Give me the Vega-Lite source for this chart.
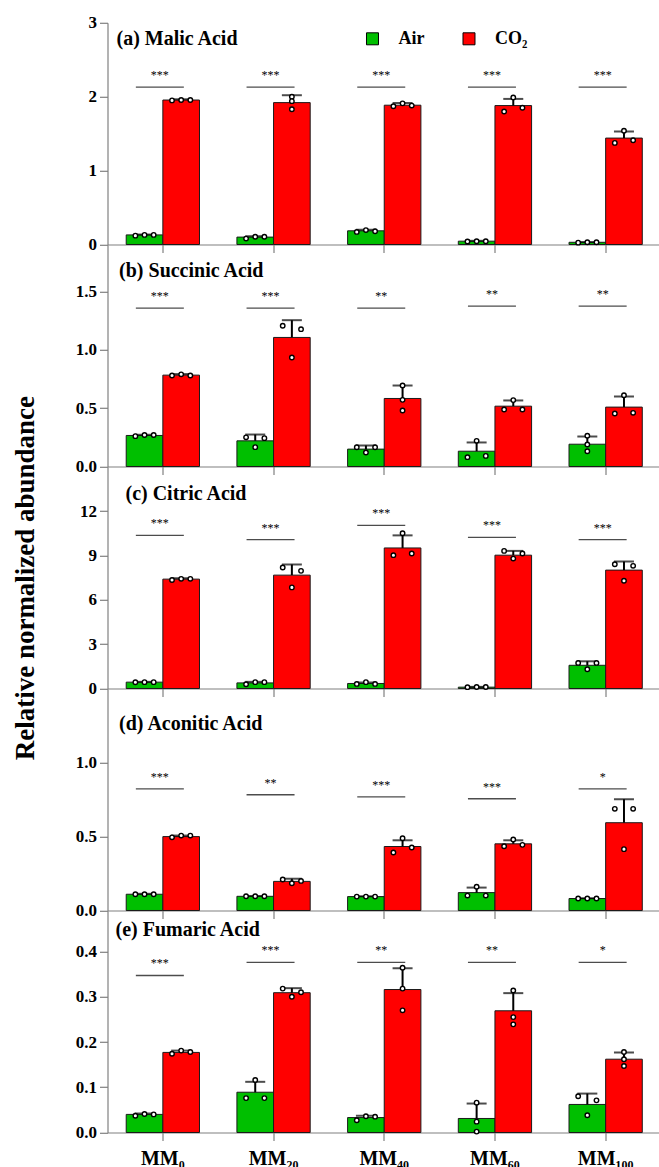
{
  "$schema": "https://vega.github.io/schema/vega-lite/v6.json",
  "padding": {"left": 10.5, "top": 13.8, "right": 0, "bottom": 5},
  "bounds": "flush",
  "spacing": 0,
  "config": {
    "view": {"stroke": null},
    "font": "Liberation Serif",
    "axis": {"domainColor": "#808080", "tickColor": "#808080", "domainWidth": 1.2, "tickWidth": 1.2, "tickSize": 8, "labelFont": "Liberation Serif", "labelFontWeight": "bold", "labelColor": "black", "grid": false, "title": null},
    "axisY": {"labelFontSize": 17, "labelPadding": 3},
    "axisX": {"labelFontSize": 20, "labelPadding": 8},
    "title": {"font": "Liberation Serif", "fontSize": 20, "fontWeight": "bold", "color": "black", "anchor": "start", "frame": "group", "baseline": "middle"}
  },
  "resolve": {"scale": {"y": "independent", "color": "independent", "x": "independent", "xOffset": "independent"}, "legend": {"color": "independent"}},
  "datasets": {
    "bars": [
      {"panel": "a", "cat": "MM₀", "group": "Air", "mean": 0.13, "err": 0.135},
      {"panel": "a", "cat": "MM₀", "group": "CO₂", "mean": 1.955, "err": 1.965},
      {"panel": "a", "cat": "MM₂₀", "group": "Air", "mean": 0.10, "err": 0.112},
      {"panel": "a", "cat": "MM₂₀", "group": "CO₂", "mean": 1.92, "err": 2.02},
      {"panel": "a", "cat": "MM₄₀", "group": "Air", "mean": 0.185, "err": 0.198},
      {"panel": "a", "cat": "MM₄₀", "group": "CO₂", "mean": 1.885, "err": 1.915},
      {"panel": "a", "cat": "MM₆₀", "group": "Air", "mean": 0.045, "err": 0.05},
      {"panel": "a", "cat": "MM₆₀", "group": "CO₂", "mean": 1.88, "err": 1.97},
      {"panel": "a", "cat": "MM₁₀₀", "group": "Air", "mean": 0.03, "err": 0.033},
      {"panel": "a", "cat": "MM₁₀₀", "group": "CO₂", "mean": 1.44, "err": 1.53},
      {"panel": "b", "cat": "MM₀", "group": "Air", "mean": 0.266, "err": 0.272},
      {"panel": "b", "cat": "MM₀", "group": "CO₂", "mean": 0.783, "err": 0.792},
      {"panel": "b", "cat": "MM₂₀", "group": "Air", "mean": 0.22, "err": 0.274},
      {"panel": "b", "cat": "MM₂₀", "group": "CO₂", "mean": 1.106, "err": 1.254},
      {"panel": "b", "cat": "MM₄₀", "group": "Air", "mean": 0.149, "err": 0.18},
      {"panel": "b", "cat": "MM₄₀", "group": "CO₂", "mean": 0.583, "err": 0.694},
      {"panel": "b", "cat": "MM₆₀", "group": "Air", "mean": 0.131, "err": 0.206},
      {"panel": "b", "cat": "MM₆₀", "group": "CO₂", "mean": 0.517, "err": 0.566},
      {"panel": "b", "cat": "MM₁₀₀", "group": "Air", "mean": 0.191, "err": 0.257},
      {"panel": "b", "cat": "MM₁₀₀", "group": "CO₂", "mean": 0.509, "err": 0.60},
      {"panel": "c", "cat": "MM₀", "group": "Air", "mean": 0.43, "err": 0.45},
      {"panel": "c", "cat": "MM₀", "group": "CO₂", "mean": 7.40, "err": 7.46},
      {"panel": "c", "cat": "MM₂₀", "group": "Air", "mean": 0.38, "err": 0.45},
      {"panel": "c", "cat": "MM₂₀", "group": "CO₂", "mean": 7.67, "err": 8.39},
      {"panel": "c", "cat": "MM₄₀", "group": "Air", "mean": 0.34, "err": 0.40},
      {"panel": "c", "cat": "MM₄₀", "group": "CO₂", "mean": 9.51, "err": 10.36},
      {"panel": "c", "cat": "MM₆₀", "group": "Air", "mean": 0.09, "err": 0.11},
      {"panel": "c", "cat": "MM₆₀", "group": "CO₂", "mean": 9.02, "err": 9.31},
      {"panel": "c", "cat": "MM₁₀₀", "group": "Air", "mean": 1.57, "err": 1.84},
      {"panel": "c", "cat": "MM₁₀₀", "group": "CO₂", "mean": 8.01, "err": 8.59},
      {"panel": "d", "cat": "MM₀", "group": "Air", "mean": 0.11, "err": 0.113},
      {"panel": "d", "cat": "MM₀", "group": "CO₂", "mean": 0.50, "err": 0.507},
      {"panel": "d", "cat": "MM₂₀", "group": "Air", "mean": 0.096, "err": 0.098},
      {"panel": "d", "cat": "MM₂₀", "group": "CO₂", "mean": 0.197, "err": 0.215},
      {"panel": "d", "cat": "MM₄₀", "group": "Air", "mean": 0.094, "err": 0.096},
      {"panel": "d", "cat": "MM₄₀", "group": "CO₂", "mean": 0.433, "err": 0.475},
      {"panel": "d", "cat": "MM₆₀", "group": "Air", "mean": 0.121, "err": 0.155},
      {"panel": "d", "cat": "MM₆₀", "group": "CO₂", "mean": 0.451, "err": 0.475},
      {"panel": "d", "cat": "MM₁₀₀", "group": "Air", "mean": 0.081, "err": 0.083},
      {"panel": "d", "cat": "MM₁₀₀", "group": "CO₂", "mean": 0.594, "err": 0.753},
      {"panel": "e", "cat": "MM₀", "group": "Air", "mean": 0.04, "err": 0.042},
      {"panel": "e", "cat": "MM₀", "group": "CO₂", "mean": 0.177, "err": 0.181},
      {"panel": "e", "cat": "MM₂₀", "group": "Air", "mean": 0.089, "err": 0.112},
      {"panel": "e", "cat": "MM₂₀", "group": "CO₂", "mean": 0.309, "err": 0.319},
      {"panel": "e", "cat": "MM₄₀", "group": "Air", "mean": 0.033, "err": 0.037},
      {"panel": "e", "cat": "MM₄₀", "group": "CO₂", "mean": 0.316, "err": 0.363},
      {"panel": "e", "cat": "MM₆₀", "group": "Air", "mean": 0.031, "err": 0.064},
      {"panel": "e", "cat": "MM₆₀", "group": "CO₂", "mean": 0.269, "err": 0.308},
      {"panel": "e", "cat": "MM₁₀₀", "group": "Air", "mean": 0.062, "err": 0.086},
      {"panel": "e", "cat": "MM₁₀₀", "group": "CO₂", "mean": 0.162, "err": 0.177}
    ],
    "pts": [
      {"panel": "a", "cat": "MM₀", "slot": "Air-L", "value": 0.12},
      {"panel": "a", "cat": "MM₀", "slot": "Air-C", "value": 0.13},
      {"panel": "a", "cat": "MM₀", "slot": "Air-R", "value": 0.13},
      {"panel": "a", "cat": "MM₀", "slot": "CO₂-L", "value": 1.95},
      {"panel": "a", "cat": "MM₀", "slot": "CO₂-C", "value": 1.955},
      {"panel": "a", "cat": "MM₀", "slot": "CO₂-R", "value": 1.955},
      {"panel": "a", "cat": "MM₂₀", "slot": "Air-L", "value": 0.08},
      {"panel": "a", "cat": "MM₂₀", "slot": "Air-C", "value": 0.105},
      {"panel": "a", "cat": "MM₂₀", "slot": "Air-R", "value": 0.105},
      {"panel": "a", "cat": "MM₂₀", "slot": "CO₂-C", "value": 2.0},
      {"panel": "a", "cat": "MM₂₀", "slot": "CO₂-C", "value": 1.94},
      {"panel": "a", "cat": "MM₂₀", "slot": "CO₂-C", "value": 1.83},
      {"panel": "a", "cat": "MM₄₀", "slot": "Air-L", "value": 0.17},
      {"panel": "a", "cat": "MM₄₀", "slot": "Air-C", "value": 0.195},
      {"panel": "a", "cat": "MM₄₀", "slot": "Air-R", "value": 0.18},
      {"panel": "a", "cat": "MM₄₀", "slot": "CO₂-L", "value": 1.87},
      {"panel": "a", "cat": "MM₄₀", "slot": "CO₂-C", "value": 1.91},
      {"panel": "a", "cat": "MM₄₀", "slot": "CO₂-R", "value": 1.88},
      {"panel": "a", "cat": "MM₆₀", "slot": "Air-L", "value": 0.04},
      {"panel": "a", "cat": "MM₆₀", "slot": "Air-C", "value": 0.045},
      {"panel": "a", "cat": "MM₆₀", "slot": "Air-R", "value": 0.045},
      {"panel": "a", "cat": "MM₆₀", "slot": "CO₂-L", "value": 1.80},
      {"panel": "a", "cat": "MM₆₀", "slot": "CO₂-C", "value": 1.99},
      {"panel": "a", "cat": "MM₆₀", "slot": "CO₂-R", "value": 1.85},
      {"panel": "a", "cat": "MM₁₀₀", "slot": "Air-L", "value": 0.025},
      {"panel": "a", "cat": "MM₁₀₀", "slot": "Air-C", "value": 0.03},
      {"panel": "a", "cat": "MM₁₀₀", "slot": "Air-R", "value": 0.03},
      {"panel": "a", "cat": "MM₁₀₀", "slot": "CO₂-L", "value": 1.375},
      {"panel": "a", "cat": "MM₁₀₀", "slot": "CO₂-C", "value": 1.54},
      {"panel": "a", "cat": "MM₁₀₀", "slot": "CO₂-R", "value": 1.41},
      {"panel": "b", "cat": "MM₀", "slot": "Air-L", "value": 0.26},
      {"panel": "b", "cat": "MM₀", "slot": "Air-C", "value": 0.27},
      {"panel": "b", "cat": "MM₀", "slot": "Air-R", "value": 0.27},
      {"panel": "b", "cat": "MM₀", "slot": "CO₂-L", "value": 0.78},
      {"panel": "b", "cat": "MM₀", "slot": "CO₂-C", "value": 0.79},
      {"panel": "b", "cat": "MM₀", "slot": "CO₂-R", "value": 0.78},
      {"panel": "b", "cat": "MM₂₀", "slot": "Air-L", "value": 0.25},
      {"panel": "b", "cat": "MM₂₀", "slot": "Air-C", "value": 0.166},
      {"panel": "b", "cat": "MM₂₀", "slot": "Air-R", "value": 0.243},
      {"panel": "b", "cat": "MM₂₀", "slot": "CO₂-L", "value": 1.206},
      {"panel": "b", "cat": "MM₂₀", "slot": "CO₂-C", "value": 0.934},
      {"panel": "b", "cat": "MM₂₀", "slot": "CO₂-R", "value": 1.177},
      {"panel": "b", "cat": "MM₄₀", "slot": "Air-L", "value": 0.165},
      {"panel": "b", "cat": "MM₄₀", "slot": "Air-C", "value": 0.12},
      {"panel": "b", "cat": "MM₄₀", "slot": "Air-R", "value": 0.165},
      {"panel": "b", "cat": "MM₄₀", "slot": "CO₂-C", "value": 0.694},
      {"panel": "b", "cat": "MM₄₀", "slot": "CO₂-C", "value": 0.571},
      {"panel": "b", "cat": "MM₄₀", "slot": "CO₂-C", "value": 0.48},
      {"panel": "b", "cat": "MM₆₀", "slot": "Air-L", "value": 0.08},
      {"panel": "b", "cat": "MM₆₀", "slot": "Air-C", "value": 0.22},
      {"panel": "b", "cat": "MM₆₀", "slot": "Air-R", "value": 0.091},
      {"panel": "b", "cat": "MM₆₀", "slot": "CO₂-L", "value": 0.489},
      {"panel": "b", "cat": "MM₆₀", "slot": "CO₂-C", "value": 0.569},
      {"panel": "b", "cat": "MM₆₀", "slot": "CO₂-R", "value": 0.489},
      {"panel": "b", "cat": "MM₁₀₀", "slot": "Air-C", "value": 0.263},
      {"panel": "b", "cat": "MM₁₀₀", "slot": "Air-C", "value": 0.189},
      {"panel": "b", "cat": "MM₁₀₀", "slot": "Air-C", "value": 0.131},
      {"panel": "b", "cat": "MM₁₀₀", "slot": "CO₂-L", "value": 0.454},
      {"panel": "b", "cat": "MM₁₀₀", "slot": "CO₂-C", "value": 0.611},
      {"panel": "b", "cat": "MM₁₀₀", "slot": "CO₂-R", "value": 0.46},
      {"panel": "c", "cat": "MM₀", "slot": "Air-L", "value": 0.42},
      {"panel": "c", "cat": "MM₀", "slot": "Air-C", "value": 0.43},
      {"panel": "c", "cat": "MM₀", "slot": "Air-R", "value": 0.43},
      {"panel": "c", "cat": "MM₀", "slot": "CO₂-L", "value": 7.34},
      {"panel": "c", "cat": "MM₀", "slot": "CO₂-C", "value": 7.42},
      {"panel": "c", "cat": "MM₀", "slot": "CO₂-R", "value": 7.42},
      {"panel": "c", "cat": "MM₂₀", "slot": "Air-L", "value": 0.29},
      {"panel": "c", "cat": "MM₂₀", "slot": "Air-C", "value": 0.43},
      {"panel": "c", "cat": "MM₂₀", "slot": "Air-R", "value": 0.43},
      {"panel": "c", "cat": "MM₂₀", "slot": "CO₂-L", "value": 8.19},
      {"panel": "c", "cat": "MM₂₀", "slot": "CO₂-C", "value": 6.84},
      {"panel": "c", "cat": "MM₂₀", "slot": "CO₂-R", "value": 7.96},
      {"panel": "c", "cat": "MM₄₀", "slot": "Air-L", "value": 0.31},
      {"panel": "c", "cat": "MM₄₀", "slot": "Air-C", "value": 0.43},
      {"panel": "c", "cat": "MM₄₀", "slot": "Air-R", "value": 0.31},
      {"panel": "c", "cat": "MM₄₀", "slot": "CO₂-L", "value": 9.02},
      {"panel": "c", "cat": "MM₄₀", "slot": "CO₂-C", "value": 10.5},
      {"panel": "c", "cat": "MM₄₀", "slot": "CO₂-R", "value": 9.13},
      {"panel": "c", "cat": "MM₆₀", "slot": "Air-L", "value": 0.09},
      {"panel": "c", "cat": "MM₆₀", "slot": "Air-C", "value": 0.1},
      {"panel": "c", "cat": "MM₆₀", "slot": "Air-R", "value": 0.1},
      {"panel": "c", "cat": "MM₆₀", "slot": "CO₂-L", "value": 9.31},
      {"panel": "c", "cat": "MM₆₀", "slot": "CO₂-C", "value": 8.79},
      {"panel": "c", "cat": "MM₆₀", "slot": "CO₂-R", "value": 9.13},
      {"panel": "c", "cat": "MM₁₀₀", "slot": "Air-L", "value": 1.73},
      {"panel": "c", "cat": "MM₁₀₀", "slot": "Air-C", "value": 1.30},
      {"panel": "c", "cat": "MM₁₀₀", "slot": "Air-R", "value": 1.73},
      {"panel": "c", "cat": "MM₁₀₀", "slot": "CO₂-L", "value": 8.41},
      {"panel": "c", "cat": "MM₁₀₀", "slot": "CO₂-C", "value": 7.29},
      {"panel": "c", "cat": "MM₁₀₀", "slot": "CO₂-R", "value": 8.30},
      {"panel": "d", "cat": "MM₀", "slot": "Air-L", "value": 0.11},
      {"panel": "d", "cat": "MM₀", "slot": "Air-C", "value": 0.11},
      {"panel": "d", "cat": "MM₀", "slot": "Air-R", "value": 0.11},
      {"panel": "d", "cat": "MM₀", "slot": "CO₂-L", "value": 0.495},
      {"panel": "d", "cat": "MM₀", "slot": "CO₂-C", "value": 0.507},
      {"panel": "d", "cat": "MM₀", "slot": "CO₂-R", "value": 0.507},
      {"panel": "d", "cat": "MM₂₀", "slot": "Air-L", "value": 0.096},
      {"panel": "d", "cat": "MM₂₀", "slot": "Air-C", "value": 0.096},
      {"panel": "d", "cat": "MM₂₀", "slot": "Air-R", "value": 0.096},
      {"panel": "d", "cat": "MM₂₀", "slot": "CO₂-L", "value": 0.21},
      {"panel": "d", "cat": "MM₂₀", "slot": "CO₂-C", "value": 0.184},
      {"panel": "d", "cat": "MM₂₀", "slot": "CO₂-R", "value": 0.20},
      {"panel": "d", "cat": "MM₄₀", "slot": "Air-L", "value": 0.094},
      {"panel": "d", "cat": "MM₄₀", "slot": "Air-C", "value": 0.094},
      {"panel": "d", "cat": "MM₄₀", "slot": "Air-R", "value": 0.094},
      {"panel": "d", "cat": "MM₄₀", "slot": "CO₂-L", "value": 0.392},
      {"panel": "d", "cat": "MM₄₀", "slot": "CO₂-C", "value": 0.489},
      {"panel": "d", "cat": "MM₄₀", "slot": "CO₂-R", "value": 0.426},
      {"panel": "d", "cat": "MM₆₀", "slot": "Air-L", "value": 0.101},
      {"panel": "d", "cat": "MM₆₀", "slot": "Air-C", "value": 0.161},
      {"panel": "d", "cat": "MM₆₀", "slot": "Air-R", "value": 0.101},
      {"panel": "d", "cat": "MM₆₀", "slot": "CO₂-L", "value": 0.435},
      {"panel": "d", "cat": "MM₆₀", "slot": "CO₂-C", "value": 0.48},
      {"panel": "d", "cat": "MM₆₀", "slot": "CO₂-R", "value": 0.444},
      {"panel": "d", "cat": "MM₁₀₀", "slot": "Air-L", "value": 0.081},
      {"panel": "d", "cat": "MM₁₀₀", "slot": "Air-C", "value": 0.081},
      {"panel": "d", "cat": "MM₁₀₀", "slot": "Air-R", "value": 0.081},
      {"panel": "d", "cat": "MM₁₀₀", "slot": "CO₂-L", "value": 0.688},
      {"panel": "d", "cat": "MM₁₀₀", "slot": "CO₂-C", "value": 0.415},
      {"panel": "d", "cat": "MM₁₀₀", "slot": "CO₂-R", "value": 0.688},
      {"panel": "e", "cat": "MM₀", "slot": "Air-L", "value": 0.037},
      {"panel": "e", "cat": "MM₀", "slot": "Air-C", "value": 0.041},
      {"panel": "e", "cat": "MM₀", "slot": "Air-R", "value": 0.04},
      {"panel": "e", "cat": "MM₀", "slot": "CO₂-L", "value": 0.174},
      {"panel": "e", "cat": "MM₀", "slot": "CO₂-C", "value": 0.181},
      {"panel": "e", "cat": "MM₀", "slot": "CO₂-R", "value": 0.178},
      {"panel": "e", "cat": "MM₂₀", "slot": "Air-L", "value": 0.076},
      {"panel": "e", "cat": "MM₂₀", "slot": "Air-C", "value": 0.116},
      {"panel": "e", "cat": "MM₂₀", "slot": "Air-R", "value": 0.076},
      {"panel": "e", "cat": "MM₂₀", "slot": "CO₂-L", "value": 0.318},
      {"panel": "e", "cat": "MM₂₀", "slot": "CO₂-C", "value": 0.30},
      {"panel": "e", "cat": "MM₂₀", "slot": "CO₂-R", "value": 0.31},
      {"panel": "e", "cat": "MM₄₀", "slot": "Air-L", "value": 0.027},
      {"panel": "e", "cat": "MM₄₀", "slot": "Air-C", "value": 0.036},
      {"panel": "e", "cat": "MM₄₀", "slot": "Air-R", "value": 0.035},
      {"panel": "e", "cat": "MM₄₀", "slot": "CO₂-C", "value": 0.364},
      {"panel": "e", "cat": "MM₄₀", "slot": "CO₂-C", "value": 0.318},
      {"panel": "e", "cat": "MM₄₀", "slot": "CO₂-C", "value": 0.27},
      {"panel": "e", "cat": "MM₆₀", "slot": "Air-C", "value": 0.066},
      {"panel": "e", "cat": "MM₆₀", "slot": "Air-C", "value": 0.024},
      {"panel": "e", "cat": "MM₆₀", "slot": "Air-C", "value": 0.002},
      {"panel": "e", "cat": "MM₆₀", "slot": "CO₂-C", "value": 0.314},
      {"panel": "e", "cat": "MM₆₀", "slot": "CO₂-C", "value": 0.255},
      {"panel": "e", "cat": "MM₆₀", "slot": "CO₂-C", "value": 0.239},
      {"panel": "e", "cat": "MM₁₀₀", "slot": "Air-L", "value": 0.08},
      {"panel": "e", "cat": "MM₁₀₀", "slot": "Air-C", "value": 0.038},
      {"panel": "e", "cat": "MM₁₀₀", "slot": "Air-R", "value": 0.071},
      {"panel": "e", "cat": "MM₁₀₀", "slot": "CO₂-C", "value": 0.178},
      {"panel": "e", "cat": "MM₁₀₀", "slot": "CO₂-C", "value": 0.162},
      {"panel": "e", "cat": "MM₁₀₀", "slot": "CO₂-C", "value": 0.147}
    ],
    "sig": [
      {"panel": "a", "cat": "MM₀", "y": 2.13, "label": "***"},
      {"panel": "a", "cat": "MM₂₀", "y": 2.13, "label": "***"},
      {"panel": "a", "cat": "MM₄₀", "y": 2.13, "label": "***"},
      {"panel": "a", "cat": "MM₆₀", "y": 2.13, "label": "***"},
      {"panel": "a", "cat": "MM₁₀₀", "y": 2.13, "label": "***"},
      {"panel": "b", "cat": "MM₀", "y": 1.357, "label": "***"},
      {"panel": "b", "cat": "MM₂₀", "y": 1.357, "label": "***"},
      {"panel": "b", "cat": "MM₄₀", "y": 1.357, "label": "**"},
      {"panel": "b", "cat": "MM₆₀", "y": 1.374, "label": "**"},
      {"panel": "b", "cat": "MM₁₀₀", "y": 1.374, "label": "**"},
      {"panel": "c", "cat": "MM₀", "y": 10.36, "label": "***"},
      {"panel": "c", "cat": "MM₂₀", "y": 10.07, "label": "***"},
      {"panel": "c", "cat": "MM₄₀", "y": 11.04, "label": "***"},
      {"panel": "c", "cat": "MM₆₀", "y": 10.23, "label": "***"},
      {"panel": "c", "cat": "MM₁₀₀", "y": 10.07, "label": "***"},
      {"panel": "d", "cat": "MM₀", "y": 0.823, "label": "***"},
      {"panel": "d", "cat": "MM₂₀", "y": 0.783, "label": "**"},
      {"panel": "d", "cat": "MM₄₀", "y": 0.769, "label": "***"},
      {"panel": "d", "cat": "MM₆₀", "y": 0.756, "label": "***"},
      {"panel": "d", "cat": "MM₁₀₀", "y": 0.823, "label": "*"},
      {"panel": "e", "cat": "MM₀", "y": 0.347, "label": "***"},
      {"panel": "e", "cat": "MM₂₀", "y": 0.376, "label": "***"},
      {"panel": "e", "cat": "MM₄₀", "y": 0.376, "label": "**"},
      {"panel": "e", "cat": "MM₆₀", "y": 0.376, "label": "**"},
      {"panel": "e", "cat": "MM₁₀₀", "y": 0.376, "label": "*"}
    ]
  },
  "vconcat": [
    {
      "width": 553.5, "height": 221.7,
      "title": {"text": "(a) Malic Acid", "offset": -35, "dx": 9},
      "resolve": {"scale": {"xOffset": "independent"}},
      "layer": [
        {"data": {"name": "bars"}, "transform": [{"filter": "datum.panel == 'a'"}],
         "mark": {"type": "bar", "stroke": "#1a1a1a", "strokeWidth": 1},
         "encoding": {
           "x": {"field": "cat", "type": "nominal", "scale": {"domain": ["MM₀", "MM₂₀", "MM₄₀", "MM₆₀", "MM₁₀₀"], "paddingInner": 0.338, "paddingOuter": 0.169}, "axis": {"labels": false}},
           "xOffset": {"field": "group", "scale": {"domain": ["Air", "CO₂"], "paddingInner": 0, "paddingOuter": 0}},
           "y": {"field": "mean", "type": "quantitative", "scale": {"domain": [0, 3], "nice": false}, "axis": {"values": [0, 1, 2, 3], "format": "d"}},
           "color": {"field": "group", "type": "nominal", "scale": {"domain": ["Air", "CO₂"], "range": ["#00BF00", "#FF0000"]},
             "legend": {"orient": "none", "legendX": 256, "legendY": 7, "direction": "horizontal", "title": null, "symbolType": "square", "symbolSize": 144, "symbolStrokeColor": "black", "symbolStrokeWidth": 1, "symbolOpacity": 1, "labelFont": "Liberation Serif", "labelFontWeight": "bold", "labelFontSize": 18, "labelColor": "black", "labelOffset": 17, "columnPadding": 35.5, "padding": 0}}
         }},
        {"data": {"name": "bars"}, "transform": [{"filter": "datum.panel == 'a'"}],
         "mark": {"type": "rule", "color": "black", "strokeWidth": 2},
         "encoding": {
           "x": {"field": "cat", "type": "nominal"},
           "xOffset": {"field": "group", "scale": {"domain": ["Air", "CO₂"], "paddingInner": 0, "paddingOuter": 0}},
           "y": {"field": "mean", "type": "quantitative", "scale": {"domain": [0, 3], "nice": false}},
           "y2": {"field": "err"}
         }},
        {"data": {"name": "bars"}, "transform": [{"filter": "datum.panel == 'a'"}],
         "mark": {"type": "tick", "orient": "horizontal", "color": "black", "size": 20, "thickness": 2},
         "encoding": {
           "x": {"field": "cat", "type": "nominal"},
           "xOffset": {"field": "group", "scale": {"domain": ["Air", "CO₂"], "paddingInner": 0, "paddingOuter": 0}},
           "y": {"field": "err", "type": "quantitative", "scale": {"domain": [0, 3], "nice": false}}
         }},
        {"data": {"name": "pts"}, "transform": [{"filter": "datum.panel == 'a'"}],
         "mark": {"type": "point", "shape": "circle", "filled": true, "fill": "white", "stroke": "black", "strokeWidth": 1.4, "size": 20, "opacity": 1},
         "encoding": {
           "x": {"field": "cat", "type": "nominal"},
           "xOffset": {"field": "slot", "scale": {"type": "point", "domain": ["Air-L", "Air-C", "Air-R", "gap", "CO₂-L", "CO₂-C", "CO₂-R"], "padding": 1.07}},
           "y": {"field": "value", "type": "quantitative", "scale": {"domain": [0, 3], "nice": false}}
         }},
        {"data": {"name": "sig"}, "transform": [{"filter": "datum.panel == 'a'"}],
         "mark": {"type": "tick", "orient": "horizontal", "color": "black", "size": 48, "thickness": 1.3, "xOffset": -3},
         "encoding": {
           "x": {"field": "cat", "type": "nominal"},
           "y": {"field": "y", "type": "quantitative", "scale": {"domain": [0, 3], "nice": false}}
         }},
        {"data": {"name": "sig"}, "transform": [{"filter": "datum.panel == 'a'"}],
         "mark": {"type": "text", "fontSize": 12, "font": "Liberation Serif", "color": "black", "dy": -8, "xOffset": -3, "baseline": "alphabetic"},
         "encoding": {
           "x": {"field": "cat", "type": "nominal"},
           "y": {"field": "y", "type": "quantitative", "scale": {"domain": [0, 3], "nice": false}},
           "text": {"field": "label"}
         }}
      ]
    },
    {
      "width": 553.5, "height": 221.7,
      "title": {"text": "(b) Succinic Acid", "offset": -36.7, "dx": 11.6},
      "resolve": {"scale": {"xOffset": "independent"}},
      "layer": [
        {"data": {"name": "bars"}, "transform": [{"filter": "datum.panel == 'b'"}],
         "mark": {"type": "bar", "stroke": "#1a1a1a", "strokeWidth": 1},
         "encoding": {
           "x": {"field": "cat", "type": "nominal", "scale": {"domain": ["MM₀", "MM₂₀", "MM₄₀", "MM₆₀", "MM₁₀₀"], "paddingInner": 0.338, "paddingOuter": 0.169}, "axis": {"labels": false}},
           "xOffset": {"field": "group", "scale": {"domain": ["Air", "CO₂"], "paddingInner": 0, "paddingOuter": 0}},
           "y": {"field": "mean", "type": "quantitative", "scale": {"domain": [0, 1.9], "nice": false}, "axis": {"values": [0, 0.5, 1, 1.5], "format": ".1f"}},
           "color": {"field": "group", "type": "nominal", "scale": {"domain": ["Air", "CO₂"], "range": ["#00BF00", "#FF0000"]}, "legend": null}
         }},
        {"data": {"name": "bars"}, "transform": [{"filter": "datum.panel == 'b'"}],
         "mark": {"type": "rule", "color": "black", "strokeWidth": 2},
         "encoding": {
           "x": {"field": "cat", "type": "nominal"},
           "xOffset": {"field": "group", "scale": {"domain": ["Air", "CO₂"], "paddingInner": 0, "paddingOuter": 0}},
           "y": {"field": "mean", "type": "quantitative", "scale": {"domain": [0, 1.9], "nice": false}},
           "y2": {"field": "err"}
         }},
        {"data": {"name": "bars"}, "transform": [{"filter": "datum.panel == 'b'"}],
         "mark": {"type": "tick", "orient": "horizontal", "color": "black", "size": 20, "thickness": 2},
         "encoding": {
           "x": {"field": "cat", "type": "nominal"},
           "xOffset": {"field": "group", "scale": {"domain": ["Air", "CO₂"], "paddingInner": 0, "paddingOuter": 0}},
           "y": {"field": "err", "type": "quantitative", "scale": {"domain": [0, 1.9], "nice": false}}
         }},
        {"data": {"name": "pts"}, "transform": [{"filter": "datum.panel == 'b'"}],
         "mark": {"type": "point", "shape": "circle", "filled": true, "fill": "white", "stroke": "black", "strokeWidth": 1.4, "size": 20, "opacity": 1},
         "encoding": {
           "x": {"field": "cat", "type": "nominal"},
           "xOffset": {"field": "slot", "scale": {"type": "point", "domain": ["Air-L", "Air-C", "Air-R", "gap", "CO₂-L", "CO₂-C", "CO₂-R"], "padding": 1.07}},
           "y": {"field": "value", "type": "quantitative", "scale": {"domain": [0, 1.9], "nice": false}}
         }},
        {"data": {"name": "sig"}, "transform": [{"filter": "datum.panel == 'b'"}],
         "mark": {"type": "tick", "orient": "horizontal", "color": "black", "size": 48, "thickness": 1.3, "xOffset": -3},
         "encoding": {
           "x": {"field": "cat", "type": "nominal"},
           "y": {"field": "y", "type": "quantitative", "scale": {"domain": [0, 1.9], "nice": false}}
         }},
        {"data": {"name": "sig"}, "transform": [{"filter": "datum.panel == 'b'"}],
         "mark": {"type": "text", "fontSize": 12, "font": "Liberation Serif", "color": "black", "dy": -8, "xOffset": -3, "baseline": "alphabetic"},
         "encoding": {
           "x": {"field": "cat", "type": "nominal"},
           "y": {"field": "y", "type": "quantitative", "scale": {"domain": [0, 1.9], "nice": false}},
           "text": {"field": "label"}
         }}
      ]
    },
    {
      "width": 553.5, "height": 221.7,
      "title": {"text": "(c) Citric Acid", "offset": -108.6, "dx": 18},
      "resolve": {"scale": {"xOffset": "independent"}},
      "layer": [
        {"data": {"name": "bars"}, "transform": [{"filter": "datum.panel == 'c'"}],
         "mark": {"type": "bar", "stroke": "#1a1a1a", "strokeWidth": 1},
         "encoding": {
           "x": {"field": "cat", "type": "nominal", "scale": {"domain": ["MM₀", "MM₂₀", "MM₄₀", "MM₆₀", "MM₁₀₀"], "paddingInner": 0.338, "paddingOuter": 0.169}, "axis": {"labels": false}},
           "xOffset": {"field": "group", "scale": {"domain": ["Air", "CO₂"], "paddingInner": 0, "paddingOuter": 0}},
           "y": {"field": "mean", "type": "quantitative", "scale": {"domain": [0, 15], "nice": false},
             "axis": {"values": [0, 3, 6, 9, 12], "format": "d", "title": "Relative normalized abundance", "titleFont": "Liberation Serif", "titleFontSize": 27, "titleFontWeight": "bold", "titleColor": "black", "titleX": -82, "titleY": 110.8, "titleAngle": -90, "titleAlign": "center", "titleBaseline": "middle"}},
           "color": {"field": "group", "type": "nominal", "scale": {"domain": ["Air", "CO₂"], "range": ["#00BF00", "#FF0000"]}, "legend": null}
         }},
        {"data": {"name": "bars"}, "transform": [{"filter": "datum.panel == 'c'"}],
         "mark": {"type": "rule", "color": "black", "strokeWidth": 2},
         "encoding": {
           "x": {"field": "cat", "type": "nominal"},
           "xOffset": {"field": "group", "scale": {"domain": ["Air", "CO₂"], "paddingInner": 0, "paddingOuter": 0}},
           "y": {"field": "mean", "type": "quantitative", "scale": {"domain": [0, 15], "nice": false}},
           "y2": {"field": "err"}
         }},
        {"data": {"name": "bars"}, "transform": [{"filter": "datum.panel == 'c'"}],
         "mark": {"type": "tick", "orient": "horizontal", "color": "black", "size": 20, "thickness": 2},
         "encoding": {
           "x": {"field": "cat", "type": "nominal"},
           "xOffset": {"field": "group", "scale": {"domain": ["Air", "CO₂"], "paddingInner": 0, "paddingOuter": 0}},
           "y": {"field": "err", "type": "quantitative", "scale": {"domain": [0, 15], "nice": false}}
         }},
        {"data": {"name": "pts"}, "transform": [{"filter": "datum.panel == 'c'"}],
         "mark": {"type": "point", "shape": "circle", "filled": true, "fill": "white", "stroke": "black", "strokeWidth": 1.4, "size": 20, "opacity": 1},
         "encoding": {
           "x": {"field": "cat", "type": "nominal"},
           "xOffset": {"field": "slot", "scale": {"type": "point", "domain": ["Air-L", "Air-C", "Air-R", "gap", "CO₂-L", "CO₂-C", "CO₂-R"], "padding": 1.07}},
           "y": {"field": "value", "type": "quantitative", "scale": {"domain": [0, 15], "nice": false}}
         }},
        {"data": {"name": "sig"}, "transform": [{"filter": "datum.panel == 'c'"}],
         "mark": {"type": "tick", "orient": "horizontal", "color": "black", "size": 48, "thickness": 1.3, "xOffset": -3},
         "encoding": {
           "x": {"field": "cat", "type": "nominal"},
           "y": {"field": "y", "type": "quantitative", "scale": {"domain": [0, 15], "nice": false}}
         }},
        {"data": {"name": "sig"}, "transform": [{"filter": "datum.panel == 'c'"}],
         "mark": {"type": "text", "fontSize": 12, "font": "Liberation Serif", "color": "black", "dy": -8, "xOffset": -3, "baseline": "alphabetic"},
         "encoding": {
           "x": {"field": "cat", "type": "nominal"},
           "y": {"field": "y", "type": "quantitative", "scale": {"domain": [0, 15], "nice": false}},
           "text": {"field": "label"}
         }}
      ]
    },
    {
      "width": 553.5, "height": 221.7,
      "title": {"text": "(d) Aconitic Acid", "offset": -45, "dx": 11.6},
      "resolve": {"scale": {"xOffset": "independent"}},
      "layer": [
        {"data": {"name": "bars"}, "transform": [{"filter": "datum.panel == 'd'"}],
         "mark": {"type": "bar", "stroke": "#1a1a1a", "strokeWidth": 1},
         "encoding": {
           "x": {"field": "cat", "type": "nominal", "scale": {"domain": ["MM₀", "MM₂₀", "MM₄₀", "MM₆₀", "MM₁₀₀"], "paddingInner": 0.338, "paddingOuter": 0.169}, "axis": {"labels": false}},
           "xOffset": {"field": "group", "scale": {"domain": ["Air", "CO₂"], "paddingInner": 0, "paddingOuter": 0}},
           "y": {"field": "mean", "type": "quantitative", "scale": {"domain": [0, 1.5], "nice": false}, "axis": {"values": [0, 0.5, 1], "format": ".1f"}},
           "color": {"field": "group", "type": "nominal", "scale": {"domain": ["Air", "CO₂"], "range": ["#00BF00", "#FF0000"]}, "legend": null}
         }},
        {"data": {"name": "bars"}, "transform": [{"filter": "datum.panel == 'd'"}],
         "mark": {"type": "rule", "color": "black", "strokeWidth": 2},
         "encoding": {
           "x": {"field": "cat", "type": "nominal"},
           "xOffset": {"field": "group", "scale": {"domain": ["Air", "CO₂"], "paddingInner": 0, "paddingOuter": 0}},
           "y": {"field": "mean", "type": "quantitative", "scale": {"domain": [0, 1.5], "nice": false}},
           "y2": {"field": "err"}
         }},
        {"data": {"name": "bars"}, "transform": [{"filter": "datum.panel == 'd'"}],
         "mark": {"type": "tick", "orient": "horizontal", "color": "black", "size": 20, "thickness": 2},
         "encoding": {
           "x": {"field": "cat", "type": "nominal"},
           "xOffset": {"field": "group", "scale": {"domain": ["Air", "CO₂"], "paddingInner": 0, "paddingOuter": 0}},
           "y": {"field": "err", "type": "quantitative", "scale": {"domain": [0, 1.5], "nice": false}}
         }},
        {"data": {"name": "pts"}, "transform": [{"filter": "datum.panel == 'd'"}],
         "mark": {"type": "point", "shape": "circle", "filled": true, "fill": "white", "stroke": "black", "strokeWidth": 1.4, "size": 20, "opacity": 1},
         "encoding": {
           "x": {"field": "cat", "type": "nominal"},
           "xOffset": {"field": "slot", "scale": {"type": "point", "domain": ["Air-L", "Air-C", "Air-R", "gap", "CO₂-L", "CO₂-C", "CO₂-R"], "padding": 1.07}},
           "y": {"field": "value", "type": "quantitative", "scale": {"domain": [0, 1.5], "nice": false}}
         }},
        {"data": {"name": "sig"}, "transform": [{"filter": "datum.panel == 'd'"}],
         "mark": {"type": "tick", "orient": "horizontal", "color": "black", "size": 48, "thickness": 1.3, "xOffset": -3},
         "encoding": {
           "x": {"field": "cat", "type": "nominal"},
           "y": {"field": "y", "type": "quantitative", "scale": {"domain": [0, 1.5], "nice": false}}
         }},
        {"data": {"name": "sig"}, "transform": [{"filter": "datum.panel == 'd'"}],
         "mark": {"type": "text", "fontSize": 12, "font": "Liberation Serif", "color": "black", "dy": -8, "xOffset": -3, "baseline": "alphabetic"},
         "encoding": {
           "x": {"field": "cat", "type": "nominal"},
           "y": {"field": "y", "type": "quantitative", "scale": {"domain": [0, 1.5], "nice": false}},
           "text": {"field": "label"}
         }}
      ]
    },
    {
      "width": 553.5, "height": 221.7,
      "title": {"text": "(e) Fumaric Acid", "offset": -29.3, "dx": 8},
      "resolve": {"scale": {"xOffset": "independent"}},
      "layer": [
        {"data": {"name": "bars"}, "transform": [{"filter": "datum.panel == 'e'"}],
         "mark": {"type": "bar", "stroke": "#1a1a1a", "strokeWidth": 1},
         "encoding": {
           "x": {"field": "cat", "type": "nominal", "scale": {"domain": ["MM₀", "MM₂₀", "MM₄₀", "MM₆₀", "MM₁₀₀"], "paddingInner": 0.338, "paddingOuter": 0.169}, "axis": {"labels": true, "labelAngle": 0}},
           "xOffset": {"field": "group", "scale": {"domain": ["Air", "CO₂"], "paddingInner": 0, "paddingOuter": 0}},
           "y": {"field": "mean", "type": "quantitative", "scale": {"domain": [0, 0.49], "nice": false}, "axis": {"values": [0, 0.1, 0.2, 0.3, 0.4], "format": ".1f"}},
           "color": {"field": "group", "type": "nominal", "scale": {"domain": ["Air", "CO₂"], "range": ["#00BF00", "#FF0000"]}, "legend": null}
         }},
        {"data": {"name": "bars"}, "transform": [{"filter": "datum.panel == 'e'"}],
         "mark": {"type": "rule", "color": "black", "strokeWidth": 2},
         "encoding": {
           "x": {"field": "cat", "type": "nominal"},
           "xOffset": {"field": "group", "scale": {"domain": ["Air", "CO₂"], "paddingInner": 0, "paddingOuter": 0}},
           "y": {"field": "mean", "type": "quantitative", "scale": {"domain": [0, 0.49], "nice": false}},
           "y2": {"field": "err"}
         }},
        {"data": {"name": "bars"}, "transform": [{"filter": "datum.panel == 'e'"}],
         "mark": {"type": "tick", "orient": "horizontal", "color": "black", "size": 20, "thickness": 2},
         "encoding": {
           "x": {"field": "cat", "type": "nominal"},
           "xOffset": {"field": "group", "scale": {"domain": ["Air", "CO₂"], "paddingInner": 0, "paddingOuter": 0}},
           "y": {"field": "err", "type": "quantitative", "scale": {"domain": [0, 0.49], "nice": false}}
         }},
        {"data": {"name": "pts"}, "transform": [{"filter": "datum.panel == 'e'"}],
         "mark": {"type": "point", "shape": "circle", "filled": true, "fill": "white", "stroke": "black", "strokeWidth": 1.4, "size": 20, "opacity": 1},
         "encoding": {
           "x": {"field": "cat", "type": "nominal"},
           "xOffset": {"field": "slot", "scale": {"type": "point", "domain": ["Air-L", "Air-C", "Air-R", "gap", "CO₂-L", "CO₂-C", "CO₂-R"], "padding": 1.07}},
           "y": {"field": "value", "type": "quantitative", "scale": {"domain": [0, 0.49], "nice": false}}
         }},
        {"data": {"name": "sig"}, "transform": [{"filter": "datum.panel == 'e'"}],
         "mark": {"type": "tick", "orient": "horizontal", "color": "black", "size": 48, "thickness": 1.3, "xOffset": -3},
         "encoding": {
           "x": {"field": "cat", "type": "nominal"},
           "y": {"field": "y", "type": "quantitative", "scale": {"domain": [0, 0.49], "nice": false}}
         }},
        {"data": {"name": "sig"}, "transform": [{"filter": "datum.panel == 'e'"}],
         "mark": {"type": "text", "fontSize": 12, "font": "Liberation Serif", "color": "black", "dy": -8, "xOffset": -3, "baseline": "alphabetic"},
         "encoding": {
           "x": {"field": "cat", "type": "nominal"},
           "y": {"field": "y", "type": "quantitative", "scale": {"domain": [0, 0.49], "nice": false}},
           "text": {"field": "label"}
         }}
      ]
    }
  ]
}
